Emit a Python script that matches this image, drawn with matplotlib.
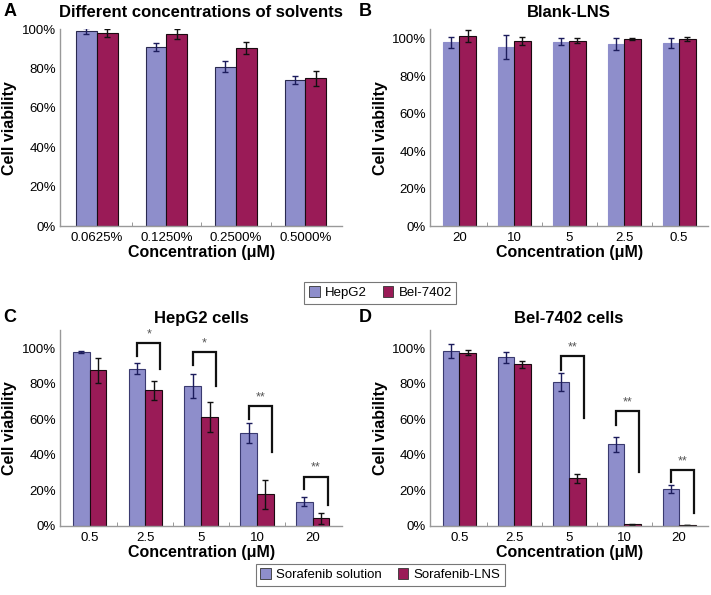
import numpy as np
from matplotlib import pyplot as plt
from matplotlib.ticker import PercentFormatter

plt.rcParams['font.family'] = ['Liberation Sans', 'DejaVu Sans']

# panel A: solvents
a_cats = ['0.0625%', '0.1250%', '0.2500%', '0.5000%']
a_hep = [99, 91, 81, 74]
a_hep_err = [1.5, 2, 3, 2]
a_bel = [98, 97.5, 90.5, 75]
a_bel_err = [2, 2.5, 3, 4]

# panel B: blank LNS
b_cats = ['20', '10', '5', '2.5', '0.5']
b_hep = [97.9, 95.4, 98.4, 97.0, 97.5]
b_hep_err = [2.7, 6.4, 1.8, 3.3, 2.8]
b_bel = [101.2, 98.6, 98.9, 99.6, 99.6]
b_bel_err = [3.1, 2.0, 1.5, 0.5, 1.0]

# panel C: HepG2 cells
c_cats = ['0.5', '2.5', '5', '10', '20']
c_sol = [97.7, 88.4, 78.8, 52.2, 13.7]
c_sol_err = [0.5, 3, 6.8, 5.5, 2.6]
c_lns = [87.4, 76.2, 61.2, 17.8, 4.3]
c_lns_err = [7, 5.5, 8.5, 8, 3]
# brackets: (category index, top, left leg end, right leg end, label)
c_sig = [(1, 102.8, 95.3, 88.2, '*'), (2, 97.7, 90.6, 78.4, '*'),
         (3, 67.5, 60.0, 41.3, '**'), (4, 27.8, 20.6, 11.8, '**')]

# panel D: Bel-7402 cells
d_cats = ['0.5', '2.5', '5', '10', '20']
d_sol = [98.3, 94.8, 80.9, 45.8, 20.6]
d_sol_err = [3.7, 3, 5, 4.3, 2.2]
d_lns = [97.4, 90.8, 26.7, 1.0, 0.4]
d_lns_err = [1.5, 2, 2.4, 0.3, 0.1]
d_sig = [(2, 95.3, 87.5, 60.4, '**'), (3, 64.5, 56.6, 30.5, '**'),
         (4, 31.4, 24.9, 7.1, '**')]

C1 = '#8e8ecb'
C2 = '#9a1b57'
W = 0.3


def draw_panel(ax, cats, v1, e1, v2, e2, ymax, edge1):
    x = np.arange(len(cats))
    b1 = ax.bar(x - W / 2, v1, W, yerr=e1, color=C1, edgecolor=edge1, linewidth=0.8,
                error_kw=dict(ecolor='#1c1c5c', elinewidth=1, capsize=2.5, capthick=1))
    b2 = ax.bar(x + W / 2, v2, W, yerr=e2, color=C2, edgecolor='#1a0a10', linewidth=0.8,
                error_kw=dict(ecolor='#111111', elinewidth=1, capsize=2.5, capthick=1))
    ax.set_xlim(-0.53, len(cats) - 0.47)
    ax.set_ylim(0, ymax)
    ax.set_yticks([0, 20, 40, 60, 80, 100])
    ax.yaxis.set_major_formatter(PercentFormatter(decimals=0))
    ax.set_xticks(x)
    ax.set_xticklabels(cats)
    ax.set_xticks(np.arange(len(cats) - 1) + 0.5, minor=True)
    ax.tick_params(axis='x', which='major', length=0, labelsize=9.5, pad=4)
    ax.tick_params(axis='x', which='minor', length=3, direction='in', color='#888888')
    ax.tick_params(axis='y', length=0, labelsize=9.5, pad=3)
    for s in ['top', 'right']:
        ax.spines[s].set_visible(False)
    for s in ['left', 'bottom']:
        ax.spines[s].set_color('#999999')
        ax.spines[s].set_linewidth(1)
    ax.set_xlabel('Concentration (\u03bcM)', fontsize=11.5, fontweight='bold', labelpad=1)
    ax.set_ylabel('Cell viability', fontsize=11.5, fontweight='bold')
    ax.yaxis.set_label_coords(-0.152, 0.5)
    return b1, b2


def draw_sig(ax, sig):
    for i, top, l_end, r_end, lab in sig:
        xl = i - W / 2
        xr = i + W / 2 + 0.4 * W
        ax.plot([xl, xl, xr, xr], [l_end, top, top, r_end], color='#111111', lw=1.6,
                solid_joinstyle='miter', clip_on=False)
        ax.text((xl + xr) / 2, top + 1.5, lab, ha='center', va='bottom', fontsize=9,
                color='#555555', clip_on=False)


fig = plt.figure(figsize=(7.11, 5.95), dpi=100)

axA = fig.add_axes([0.0844, 0.620, 0.397, 0.331])
axB = fig.add_axes([0.605, 0.620, 0.391, 0.331])
axC = fig.add_axes([0.0844, 0.116, 0.397, 0.329])
axD = fig.add_axes([0.605, 0.116, 0.391, 0.329])

hA = draw_panel(axA, a_cats, a_hep, a_hep_err, a_bel, a_bel_err, 100, '#2a2a50')
draw_panel(axB, b_cats, b_hep, b_hep_err, b_bel, b_bel_err, 105, C1)
hC = draw_panel(axC, c_cats, c_sol, c_sol_err, c_lns, c_lns_err, 110, '#3a3a70')
draw_panel(axD, d_cats, d_sol, d_sol_err, d_lns, d_lns_err, 110, '#3a3a70')
draw_sig(axC, c_sig)
draw_sig(axD, d_sig)

axA.set_title('Different concentrations of solvents', fontsize=12, fontweight='bold', pad=9)
axB.set_title('Blank-LNS', fontsize=12, fontweight='bold', pad=9)
axC.set_title('HepG2 cells', fontsize=12, fontweight='bold', pad=5)
axD.set_title('Bel-7402 cells', fontsize=12, fontweight='bold', pad=5)

fig.text(0.005, 0.995, 'A', fontsize=13, fontweight='bold', va='top', ha='left')
fig.text(0.505, 0.995, 'B', fontsize=13, fontweight='bold', va='top', ha='left')
fig.text(0.005, 0.480, 'C', fontsize=13, fontweight='bold', va='top', ha='left')
fig.text(0.505, 0.480, 'D', fontsize=13, fontweight='bold', va='top', ha='left')

leg_kw = dict(loc='center', ncol=2, fontsize=9.5, frameon=True, fancybox=False,
              edgecolor='#555555', handlelength=0.8, handleheight=0.8,
              handletextpad=0.4, columnspacing=1.2, borderpad=0.35)
l1 = fig.legend(hA, ['HepG2', 'Bel-7402'], bbox_to_anchor=(0.535, 0.508), **leg_kw)
l2 = fig.legend(hC, ['Sorafenib solution', 'Sorafenib-LNS'], bbox_to_anchor=(0.535, 0.034), **leg_kw)
for leg in (l1, l2):
    leg.get_frame().set_linewidth(0.8)
    for p in leg.get_patches():
        p.set_edgecolor('#333333')
        p.set_linewidth(0.6)

fig.savefig('out.png', dpi=100)
